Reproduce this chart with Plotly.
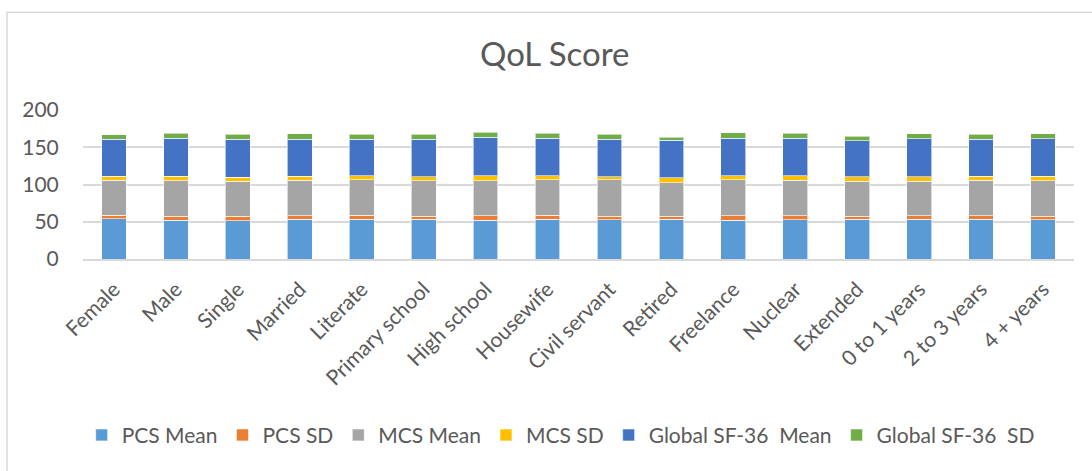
import plotly.graph_objects as go

categories = ["Female", "Male", "Single", "Married", "Literate", "Primary school",
              "High school", "Housewife", "Civil servant", "Retired", "Freelance",
              "Nuclear", "Extended", "0 to 1 years", "2 to 3 years", "4 + years"]

pcs_mean = [54.0, 51.8, 51.3, 53.1, 53.1, 53.1, 52.2, 53.5, 52.7, 53.1, 51.8, 52.7, 53.5, 53.1, 53.1, 52.7]
pcs_sd = [4.4, 5.3, 6.2, 4.9, 5.3, 4.4, 5.8, 5.3, 4.8, 4.0, 6.2, 5.3, 3.6, 4.9, 4.9, 4.4]
mcs_mean = [47.4, 47.8, 46.9, 47.8, 48.2, 47.4, 47.3, 47.4, 48.7, 45.1, 48.2, 47.8, 47.3, 46.4, 47.8, 47.8]
mcs_sd = [5.3, 6.2, 5.3, 5.2, 5.4, 5.7, 6.7, 5.3, 4.4, 6.6, 5.3, 5.7, 5.8, 6.2, 5.2, 6.1]
global_mean = [49.6, 51.0, 50.9, 49.6, 48.6, 50.0, 51.3, 50.5, 50.0, 50.5, 50.5, 50.5, 48.2, 50.9, 49.6, 50.5]
global_sd = [6.2, 6.6, 6.7, 7.5, 6.7, 6.7, 7.1, 6.6, 7.1, 4.4, 7.5, 6.6, 6.6, 6.6, 6.7, 6.6]

series = [
    ("PCS Mean", pcs_mean, "#5B9BD5"),
    ("PCS SD", pcs_sd, "#ED7D31"),
    ("MCS Mean", mcs_mean, "#A5A5A5"),
    ("MCS SD", mcs_sd, "#FFC000"),
    ("Global SF-36  Mean", global_mean, "#4472C4"),
    ("Global SF-36  SD", global_sd, "#70AD47"),
]

FONT = "Lato, 'Open Sans', sans-serif"
TXT = "#595959"

fig = go.Figure()
for name, vals, col in series:
    fig.add_trace(go.Bar(x=categories, y=vals, name=name,
                         marker=dict(color=col, line=dict(color="rgba(255,255,255,0.6)", width=1))))

fig.update_layout(
    barmode="stack",
    bargap=0.6,
    width=1092, height=471,
    margin=dict(l=83, r=18, t=109.5, b=211.5),
    paper_bgcolor="white", plot_bgcolor="white",
    font=dict(family=FONT, color=TXT, size=21),
    title=dict(text="QoL Score", x=0.508, xanchor="center", y=1 - 54 / 471, yanchor="middle",
               font=dict(family=FONT, size=33, color=TXT)),
    xaxis=dict(tickangle=-45, tickfont=dict(size=21, color=TXT), showgrid=False,
               showline=True, linecolor="#d9d9d9", linewidth=1.5,
               ticks="outside", ticklen=8, tickcolor="rgba(0,0,0,0)"),
    yaxis=dict(range=[0, 200], tickvals=[0, 50, 100, 150, 200], showgrid=True,
               gridcolor="#d9d9d9", gridwidth=1.5, zeroline=False, showline=False,
               tickfont=dict(size=21, color=TXT), ticklen=19, tickcolor="rgba(0,0,0,0)", ticks="outside"),
    legend=dict(orientation="h", x=0.482, xanchor="center", y=(259.5 - 437) / 150, yanchor="middle",
                font=dict(size=21, color=TXT), traceorder="normal", itemwidth=30),
    showlegend=True,
)

# outer chart border
fig.add_shape(type="rect", xref="paper", yref="paper",
              x0=(7 - 83) / 991, x1=1.2, y0=-3, y1=(259.5 - 11) / 150,
              line=dict(color="#d9d9d9", width=1.5), fillcolor="rgba(0,0,0,0)", layer="below")

fig.write_html("out.html", config={"displayModeBar": False},
               post_script="document.body.style.margin='0px';")
